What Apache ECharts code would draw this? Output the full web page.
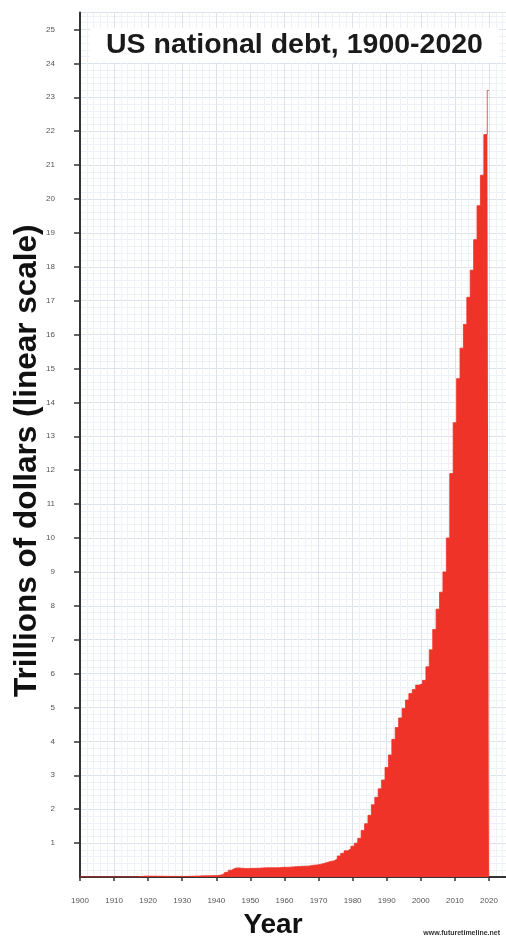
<!DOCTYPE html>
<html>
<head>
<meta charset="utf-8">
<script src="https://cdn.jsdelivr.net/npm/echarts@6/dist/echarts.min.js"></script>
<style>
html,body{margin:0;padding:0;background:#fff;}
#chart{width:506px;height:938px;}
</style>
</head>
<body>
<div id="chart"></div>
<script>
var titleText = 'US national debt, 1900-2020';
var yAxisTitle = 'Trillions of dollars (linear scale)';
var xAxisTitle = 'Year';
var sourceText = 'www.futuretimeline.net';

var years = [
 1900,1901,1902,1903,1904,1905,1906,1907,1908,1909,
 1910,1911,1912,1913,1914,1915,1916,1917,1918,1919,
 1920,1921,1922,1923,1924,1925,1926,1927,1928,1929,
 1930,1931,1932,1933,1934,1935,1936,1937,1938,1939,
 1940,1941,1942,1943,1944,1945,1946,1947,1948,1949,
 1950,1951,1952,1953,1954,1955,1956,1957,1958,1959,
 1960,1961,1962,1963,1964,1965,1966,1967,1968,1969,
 1970,1971,1972,1973,1974,1975,1976,1977,1978,1979,
 1980,1981,1982,1983,1984,1985,1986,1987,1988,1989,
 1990,1991,1992,1993,1994,1995,1996,1997,1998,1999,
 2000,2001,2002,2003,2004,2005,2006,2007,2008,2009,
 2010,2011,2012,2013,2014,2015,2016,2017,2018,2019,
 2020
];

// trillions of dollars
var debt = [
 0.0012,0.0012,0.0012,0.0012,0.0012,0.0012,0.0011,0.0011,0.0012,0.0012,
 0.0012,0.0012,0.0012,0.0012,0.0012,0.0012,0.0012,0.003,0.012,0.025,
 0.026,0.024,0.023,0.022,0.021,0.020,0.019,0.018,0.018,0.017,
 0.016,0.017,0.019,0.022,0.027,0.029,0.034,0.036,0.037,0.040,
 0.043,0.049,0.072,0.137,0.201,0.259,0.269,0.258,0.252,0.253,
 0.257,0.255,0.259,0.266,0.271,0.274,0.273,0.271,0.276,0.285,
 0.286,0.289,0.298,0.306,0.312,0.317,0.320,0.326,0.348,0.354,
 0.371,0.398,0.427,0.458,0.475,0.533,0.620,0.699,0.772,0.827,
 0.908,0.998,1.14,1.37,1.57,1.82,2.13,2.35,2.60,2.86,
 3.23,3.60,4.06,4.41,4.69,4.97,5.22,5.41,5.53,5.66,
 5.70,5.80,6.2,6.7,7.3,7.9,8.4,9.0,10.0,11.9,
 13.4,14.7,15.6,16.3,17.1,17.9,18.8,19.8,20.7,21.9,
 23.2
];

var seriesData = years.map(function (y, i) { return [y, debt[i]]; });

var chart = echarts.init(document.getElementById('chart'), null, {renderer: 'canvas'});
var FONT = '"Liberation Sans", Arial, Helvetica, sans-serif';

chart.setOption({
  backgroundColor: '#ffffff',
  animation: false,
  title: [{
    text: titleText,
    left: 90,
    top: 28,
    padding: [3, 16, 3, 16],
    backgroundColor: '#ffffff',
    textStyle: {fontFamily: FONT, fontSize: 28.5, fontWeight: 'bold', color: '#1a1a1a'}
  }, {
    text: sourceText,
    right: 6,
    bottom: 1,
    padding: 0,
    textStyle: {fontFamily: FONT, fontSize: 7, fontWeight: 'bold', color: '#333'}
  }],
  grid: {left: 80, right: 0, top: 12.5, bottom: 61, containLabel: false, outerBoundsMode: 'none'},
  xAxis: {
    type: 'value',
    min: 1900,
    max: 2025,
    interval: 10,
    name: xAxisTitle,
    nameLocation: 'middle',
    nameGap: 34,
    nameTextStyle: {fontFamily: FONT, fontSize: 28, fontWeight: 'bold', color: '#111', padding: [0, 40, 0, 0]},
    axisLine: {show: true, lineStyle: {color: '#333', width: 2}},
    axisTick: {show: true, length: 4, lineStyle: {color: '#333', width: 1.5}},
    axisLabel: {
      fontFamily: FONT, fontSize: 8, color: '#555', margin: 20,
      showMaxLabel: false,
      formatter: function (v) { return v % 10 === 0 ? String(v) : ''; }
    },
    splitLine: {show: true, lineStyle: {color: '#dde3ea', width: 1}},
    minorTick: {show: false, splitNumber: 5},
    minorSplitLine: {show: true, lineStyle: {color: '#eef1f5', width: 1}}
  },
  yAxis: {
    type: 'value',
    min: 0,
    max: 25.5,
    interval: 1,
    name: yAxisTitle,
    nameLocation: 'middle',
    nameGap: 37,
    nameMoveOverlap: false,
    nameTextStyle: {fontFamily: FONT, fontSize: 31.5, fontWeight: 'bold', color: '#111', padding: [0, 32, 0, 0]},
    axisLine: {show: true, lineStyle: {color: '#333', width: 2}},
    axisTick: {show: true, length: 6, lineStyle: {color: '#333', width: 1.5}},
    axisLabel: {
      fontFamily: FONT, fontSize: 8, color: '#555', margin: 25,
      showMinLabel: false, showMaxLabel: false,
      formatter: function (v) { return (v > 0 && Math.abs(v - Math.round(v)) < 1e-6) ? String(v) : ''; }
    },
    splitLine: {show: true, lineStyle: {color: '#dde3ea', width: 1}},
    minorTick: {show: false, splitNumber: 5},
    minorSplitLine: {show: true, lineStyle: {color: '#eef1f5', width: 1}}
  },
  series: [{
    type: 'line',
    name: 'US national debt',
    data: seriesData,
    step: 'middle',
    symbol: 'none',
    z: 3,
    lineStyle: {color: '#ef3328', width: 0.8},
    areaStyle: {color: '#ef3328', opacity: 1}
  }]
});
</script>
</body>
</html>
